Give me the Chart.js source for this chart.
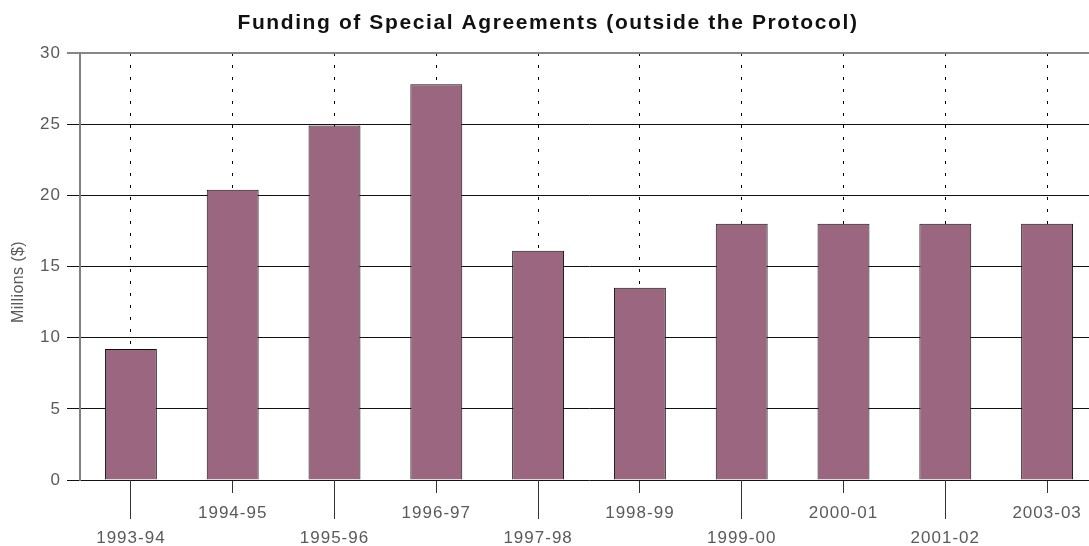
<!DOCTYPE html>
<html>
<head>
<meta charset="utf-8">
<script src="https://cdn.jsdelivr.net/npm/chart.js@4/dist/chart.umd.min.js"></script>
<style>
html,body{margin:0;padding:0;background:#fff;overflow:hidden;width:1089px;height:546px;}
#wrap{width:1100px;height:546px;}
canvas{display:block;}
</style>
</head>
<body>
<div id="wrap"><canvas id="c" width="1100" height="546"></canvas></div>
<script>
const categories = ["1993-94","1994-95","1995-96","1996-97","1997-98","1998-99","1999-00","2000-01","2001-02","2003-03"];
const funding = [9.2, 20.4, 24.9, 27.8, 16.1, 13.5, 18.0, 18.0, 18.0, 18.0];
const yTicks = [0, 5, 10, 15, 20, 25, 30];
const chartTitle = "Funding of Special Agreements (outside the Protocol)";
const yTitle = "Millions ($)";

const FONT = "'Liberation Sans', Arial, sans-serif";

const extras = {
  id: 'extras',
  beforeDraw(chart) {
    chart.ctx.letterSpacing = '1px';
  },
  afterDraw(chart) {
    const ctx = chart.ctx;
    const x = chart.scales.x;
    const area = chart.chartArea;
    ctx.save();
    ctx.strokeStyle = '#333';
    ctx.lineWidth = 1;
    ctx.setLineDash([]);
    for (let i = 0; i < categories.length; i += 2) {
      const px = Math.round(x.getPixelForTick(i) - 0.5) + 0.5;
      ctx.beginPath();
      ctx.moveTo(px, area.bottom);
      ctx.lineTo(px, area.bottom + 39);
      ctx.stroke();
    }
    ctx.restore();

    ctx.save();
    ctx.letterSpacing = '1.6px';
    ctx.fillStyle = '#111';
    ctx.font = "bold 21px " + FONT;
    ctx.textAlign = 'center';
    ctx.textBaseline = 'middle';
    ctx.fillText(chartTitle, 548, 23);
    ctx.restore();

    ctx.save();
    ctx.letterSpacing = '0.4px';
    ctx.translate(19, 282);
    ctx.rotate(-Math.PI / 2);
    ctx.fillStyle = '#5a5a5a';
    ctx.font = "16px " + FONT;
    ctx.textAlign = 'center';
    ctx.textBaseline = 'middle';
    ctx.fillText(yTitle, 0, 0);
    ctx.restore();
  }
};

new Chart(document.getElementById('c'), {
  type: 'bar',
  data: {
    labels: categories,
    datasets: [{
      data: funding,
      backgroundColor: '#9A6680',
      borderColor: '#111',
      borderWidth: 1,
      borderSkipped: 'bottom',
      barPercentage: 0.51,
      categoryPercentage: 1.0
    }]
  },
  options: {
    responsive: false,
    animation: false,
    layout: { padding: { left: 0, right: 2, top: 53, bottom: 0 } },
    plugins: {
      legend: { display: false },
      tooltip: { enabled: false },
      title: { display: false }
    },
    scales: {
      x: {
        offset: true,
        grid: {
          offset: false,
          color: '#000',
          lineWidth: 1,
          drawTicks: true,
          tickLength: 13,
          tickColor: '#333',
          tickBorderDash: [],
          tickWidth: 1
        },
        border: { display: false, dash: [3, 9] },
        ticks: {
          color: '#5a5a5a',
          font: { family: FONT, size: 17, lineHeight: 1.45 },
          padding: 8,
          maxRotation: 0,
          autoSkip: false,
          callback: function (v, i) { return i % 2 === 0 ? ['', categories[i]] : categories[i]; }
        },
        afterFit(scale) { scale.height = 66; }
      },
      y: {
        min: 0,
        max: 30,
        afterBuildTicks(scale) { scale.ticks = yTicks.map(v => ({ value: v })); },
        grid: {
          color: ctx => ctx.tick && ctx.tick.value === 30 ? '#888' : '#111',
          lineWidth: ctx => ctx.tick && ctx.tick.value === 30 ? 2 : 1,
          tickLength: 13,
          tickColor: ctx => ctx.tick && ctx.tick.value === 30 ? '#888' : '#111'
        },
        border: { display: true, color: '#808080', width: 2 },
        ticks: {
          color: '#5a5a5a',
          font: { family: FONT, size: 17 },
          padding: 6
        },
        afterFit(scale) { scale.width = 80; }
      }
    }
  },
  plugins: [extras]
});
</script>
</body>
</html>
